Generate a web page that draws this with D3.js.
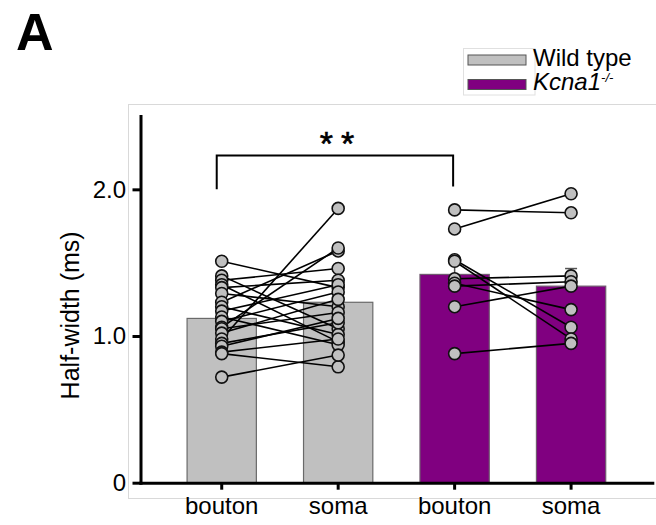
<!DOCTYPE html>
<html>
<head>
<meta charset="utf-8">
<script src="https://cdn.jsdelivr.net/npm/d3@7"></script>
<style>
  body { margin: 0; background: #fff; }
  svg { display: block; font-family: "Liberation Sans", Arial, Helvetica, sans-serif; }
</style>
</head>
<body>
<div id="chart"></div>
<script>
// ---- data -------------------------------------------------------------
const barKeys   = ["wt-bouton", "wt-soma", "ko-bouton", "ko-soma"];
const barLabels = ["bouton", "soma", "bouton", "soma"];
const barGroups = ["wt", "wt", "ko", "ko"];
const barMeans  = [1.12, 1.23, 1.42, 1.34];   // half-width, ms
const barSem    = [0.04, 0.06, 0.10, 0.12];

const yTicks      = [0, 1, 2];
const yTickLabels = ["0", "1.0", "2.0"];

// paired recordings (bouton[i] ↔ soma[i])
const wtBouton = [1.51, 1.41, 1.38, 1.35, 1.33, 1.29, 1.23, 1.20, 1.17, 1.13,
                  1.10, 1.06, 1.05, 1.02, 0.98, 0.95, 0.93, 0.89, 0.88, 0.72];
const wtSoma   = [1.33, 1.05, 1.46, 0.96, 1.38, 1.20, 1.58, 1.01, 1.35, 0.94,
                  1.30, 1.60, 1.16, 1.25, 1.87, 1.09, 1.12, 0.98, 0.79, 0.87];
const koBouton = [1.86, 1.73, 1.52, 1.51, 1.39, 1.36, 1.34, 1.20, 0.88];
const koSoma   = [1.84, 1.97, 1.06, 0.98, 1.41, 1.18, 1.37, 1.34, 0.95];

const legendKeys  = ["wt", "ko"];
const legendNames = ["Wild type", "Kcna1"];
const legendSup   = ["", "-/-"];

// significance bracket between the two bouton groups (data units)
const sigPair   = ["wt-bouton", "ko-bouton"];
const sigLevels = [2.00, 2.23, 2.02];   // left end, bar top, right end
const sigText   = "**";

// ---- styling ----------------------------------------------------------
const W = 656, H = 525;
const colors = { wt: "#c0c0c0", ko: "#800080" };
const axisLeftX = 140.5, axisRightX = 652.3;
const yTop = 116, yZero = 482.7;

const svg = d3.select("#chart").append("svg")
  .attr("width", W).attr("height", H);

// ---- scales -----------------------------------------------------------
const x = d3.scaleBand()
  .domain(barKeys)
  .range([axisLeftX, axisRightX])
  .paddingInner(0.405)
  .paddingOuter(0.40);

const y = d3.scaleLinear().domain([0, 2.5]).range([yZero, yTop]);
const cx = k => x(k) + x.bandwidth() / 2;

// faint panel frames
svg.append("rect")
  .attr("x", 128.5).attr("y", 104.5).attr("width", 540).attr("height", 394)
  .attr("fill", "none").attr("stroke", "#d9d9d9").attr("stroke-width", 1);
svg.append("rect")
  .attr("x", 463.5).attr("y", 48.5).attr("width", 71.5).attr("height", 46.5)
  .attr("fill", "none").attr("stroke", "#e0e0e0").attr("stroke-width", 1);

// panel letter
svg.append("text")
  .attr("x", 16).attr("y", 50)
  .attr("font-size", 52).attr("font-weight", "bold")
  .text("A");

// ---- bars -------------------------------------------------------------
const bars = barKeys.map((k, i) => ({
  key: k, label: barLabels[i], group: barGroups[i], mean: barMeans[i], sem: barSem[i]
}));

svg.append("g").selectAll("rect").data(bars).join("rect")
  .attr("x", d => x(d.key))
  .attr("y", d => y(d.mean))
  .attr("width", x.bandwidth())
  .attr("height", d => y(0) - y(d.mean))
  .attr("fill", d => colors[d.group])
  .attr("stroke", d => d.group === "wt" ? "#6a6a6a" : "#6f5a6f")
  .attr("stroke-width", 1.2);

// error bars (upper half)
const eb = svg.append("g").attr("stroke", "#555").attr("stroke-width", 1.5);
bars.forEach(d => {
  eb.append("line")
    .attr("x1", cx(d.key)).attr("x2", cx(d.key))
    .attr("y1", y(d.mean)).attr("y2", y(d.mean + d.sem));
  eb.append("line")
    .attr("x1", cx(d.key) - 6).attr("x2", cx(d.key) + 6)
    .attr("y1", y(d.mean + d.sem)).attr("y2", y(d.mean + d.sem));
});

// ---- paired lines and points -------------------------------------------
const pairs = [
  { from: "wt-bouton", to: "wt-soma", a: wtBouton, b: wtSoma },
  { from: "ko-bouton", to: "ko-soma", a: koBouton, b: koSoma }
];

const lineG = svg.append("g").attr("stroke", "#000").attr("stroke-width", 1.6);
const dotG = svg.append("g")
  .attr("fill", "#c0c0c0").attr("stroke", "#111").attr("stroke-width", 1.6);

pairs.forEach(p => {
  lineG.selectAll(null).data(d3.range(p.a.length)).join("line")
    .attr("x1", cx(p.from)).attr("y1", i => y(p.a[i]))
    .attr("x2", cx(p.to)).attr("y2", i => y(p.b[i]));
});
pairs.forEach(p => {
  dotG.selectAll(null).data(p.a).join("circle")
    .attr("cx", cx(p.from)).attr("cy", v => y(v)).attr("r", 6);
  dotG.selectAll(null).data(p.b).join("circle")
    .attr("cx", cx(p.to)).attr("cy", v => y(v)).attr("r", 6);
});

// ---- axes -------------------------------------------------------------
const yAxis = svg.append("g")
  .attr("transform", `translate(${axisLeftX},0)`)
  .call(d3.axisLeft(y)
    .tickValues(yTicks)
    .tickFormat((d, i) => yTickLabels[i])
    .tickSize(8).tickSizeOuter(0).tickPadding(6.5));
yAxis.select(".domain").attr("stroke-width", 3).attr("stroke-linecap", "square");
yAxis.selectAll(".tick line").attr("stroke-width", 3);
yAxis.selectAll("text").attr("font-size", 24).attr("fill", "#000")
  .attr("font-family", "'Liberation Sans', Arial, sans-serif");

const xAxis = svg.append("g")
  .attr("transform", `translate(0,${yZero})`)
  .call(d3.axisBottom(x)
    .tickFormat((d, i) => barLabels[i])
    .tickSize(7).tickSizeOuter(0));
xAxis.select(".domain").attr("stroke-width", 3).attr("stroke-linecap", "square");
xAxis.selectAll(".tick line").attr("stroke-width", 3);
xAxis.selectAll("text").attr("font-size", 24).attr("fill", "#000")
  .attr("y", 31).attr("dy", 0)
  .attr("font-family", "'Liberation Sans', Arial, sans-serif");

// axis title
svg.append("text")
  .attr("transform", `translate(79,${(y(0) + y(2.5)) / 2 + 16}) rotate(-90)`)
  .attr("text-anchor", "middle")
  .attr("font-size", 25)
  .text("Half-width (ms)");

// ---- significance bracket -----------------------------------------------
const bx0 = cx(sigPair[0]) - 5, bx1 = cx(sigPair[1]) - 1.5;
svg.append("path")
  .attr("d", `M${bx0},${y(sigLevels[0])}V${y(sigLevels[1])}H${bx1}V${y(sigLevels[2])}`)
  .attr("fill", "none").attr("stroke", "#000").attr("stroke-width", 2);
svg.append("text")
  .attr("x", (bx0 + bx1) / 2 + 6).attr("y", y(sigLevels[1]) - 1)
  .attr("text-anchor", "middle")
  .attr("font-size", 34).attr("letter-spacing", 8)
  .attr("stroke", "#000").attr("stroke-width", 0.6)
  .text(sigText);

// ---- legend -----------------------------------------------------------
const lg = svg.append("g");
legendKeys.forEach((k, i) => {
  const yy = 55 + i * 24.5;
  lg.append("rect")
    .attr("x", 468).attr("y", yy).attr("width", 58).attr("height", 10)
    .attr("fill", colors[k]).attr("stroke", "#555").attr("stroke-width", 1);
  const t = lg.append("text")
    .attr("x", 533).attr("y", yy + 10.5)
    .attr("font-size", 24)
    .attr("font-style", i === 1 ? "italic" : "normal");
  t.append("tspan").text(legendNames[i]);
  if (legendSup[i]) {
    t.append("tspan").attr("font-size", 13).attr("dy", -8).text(legendSup[i]);
  }
});
</script>
</body>
</html>
